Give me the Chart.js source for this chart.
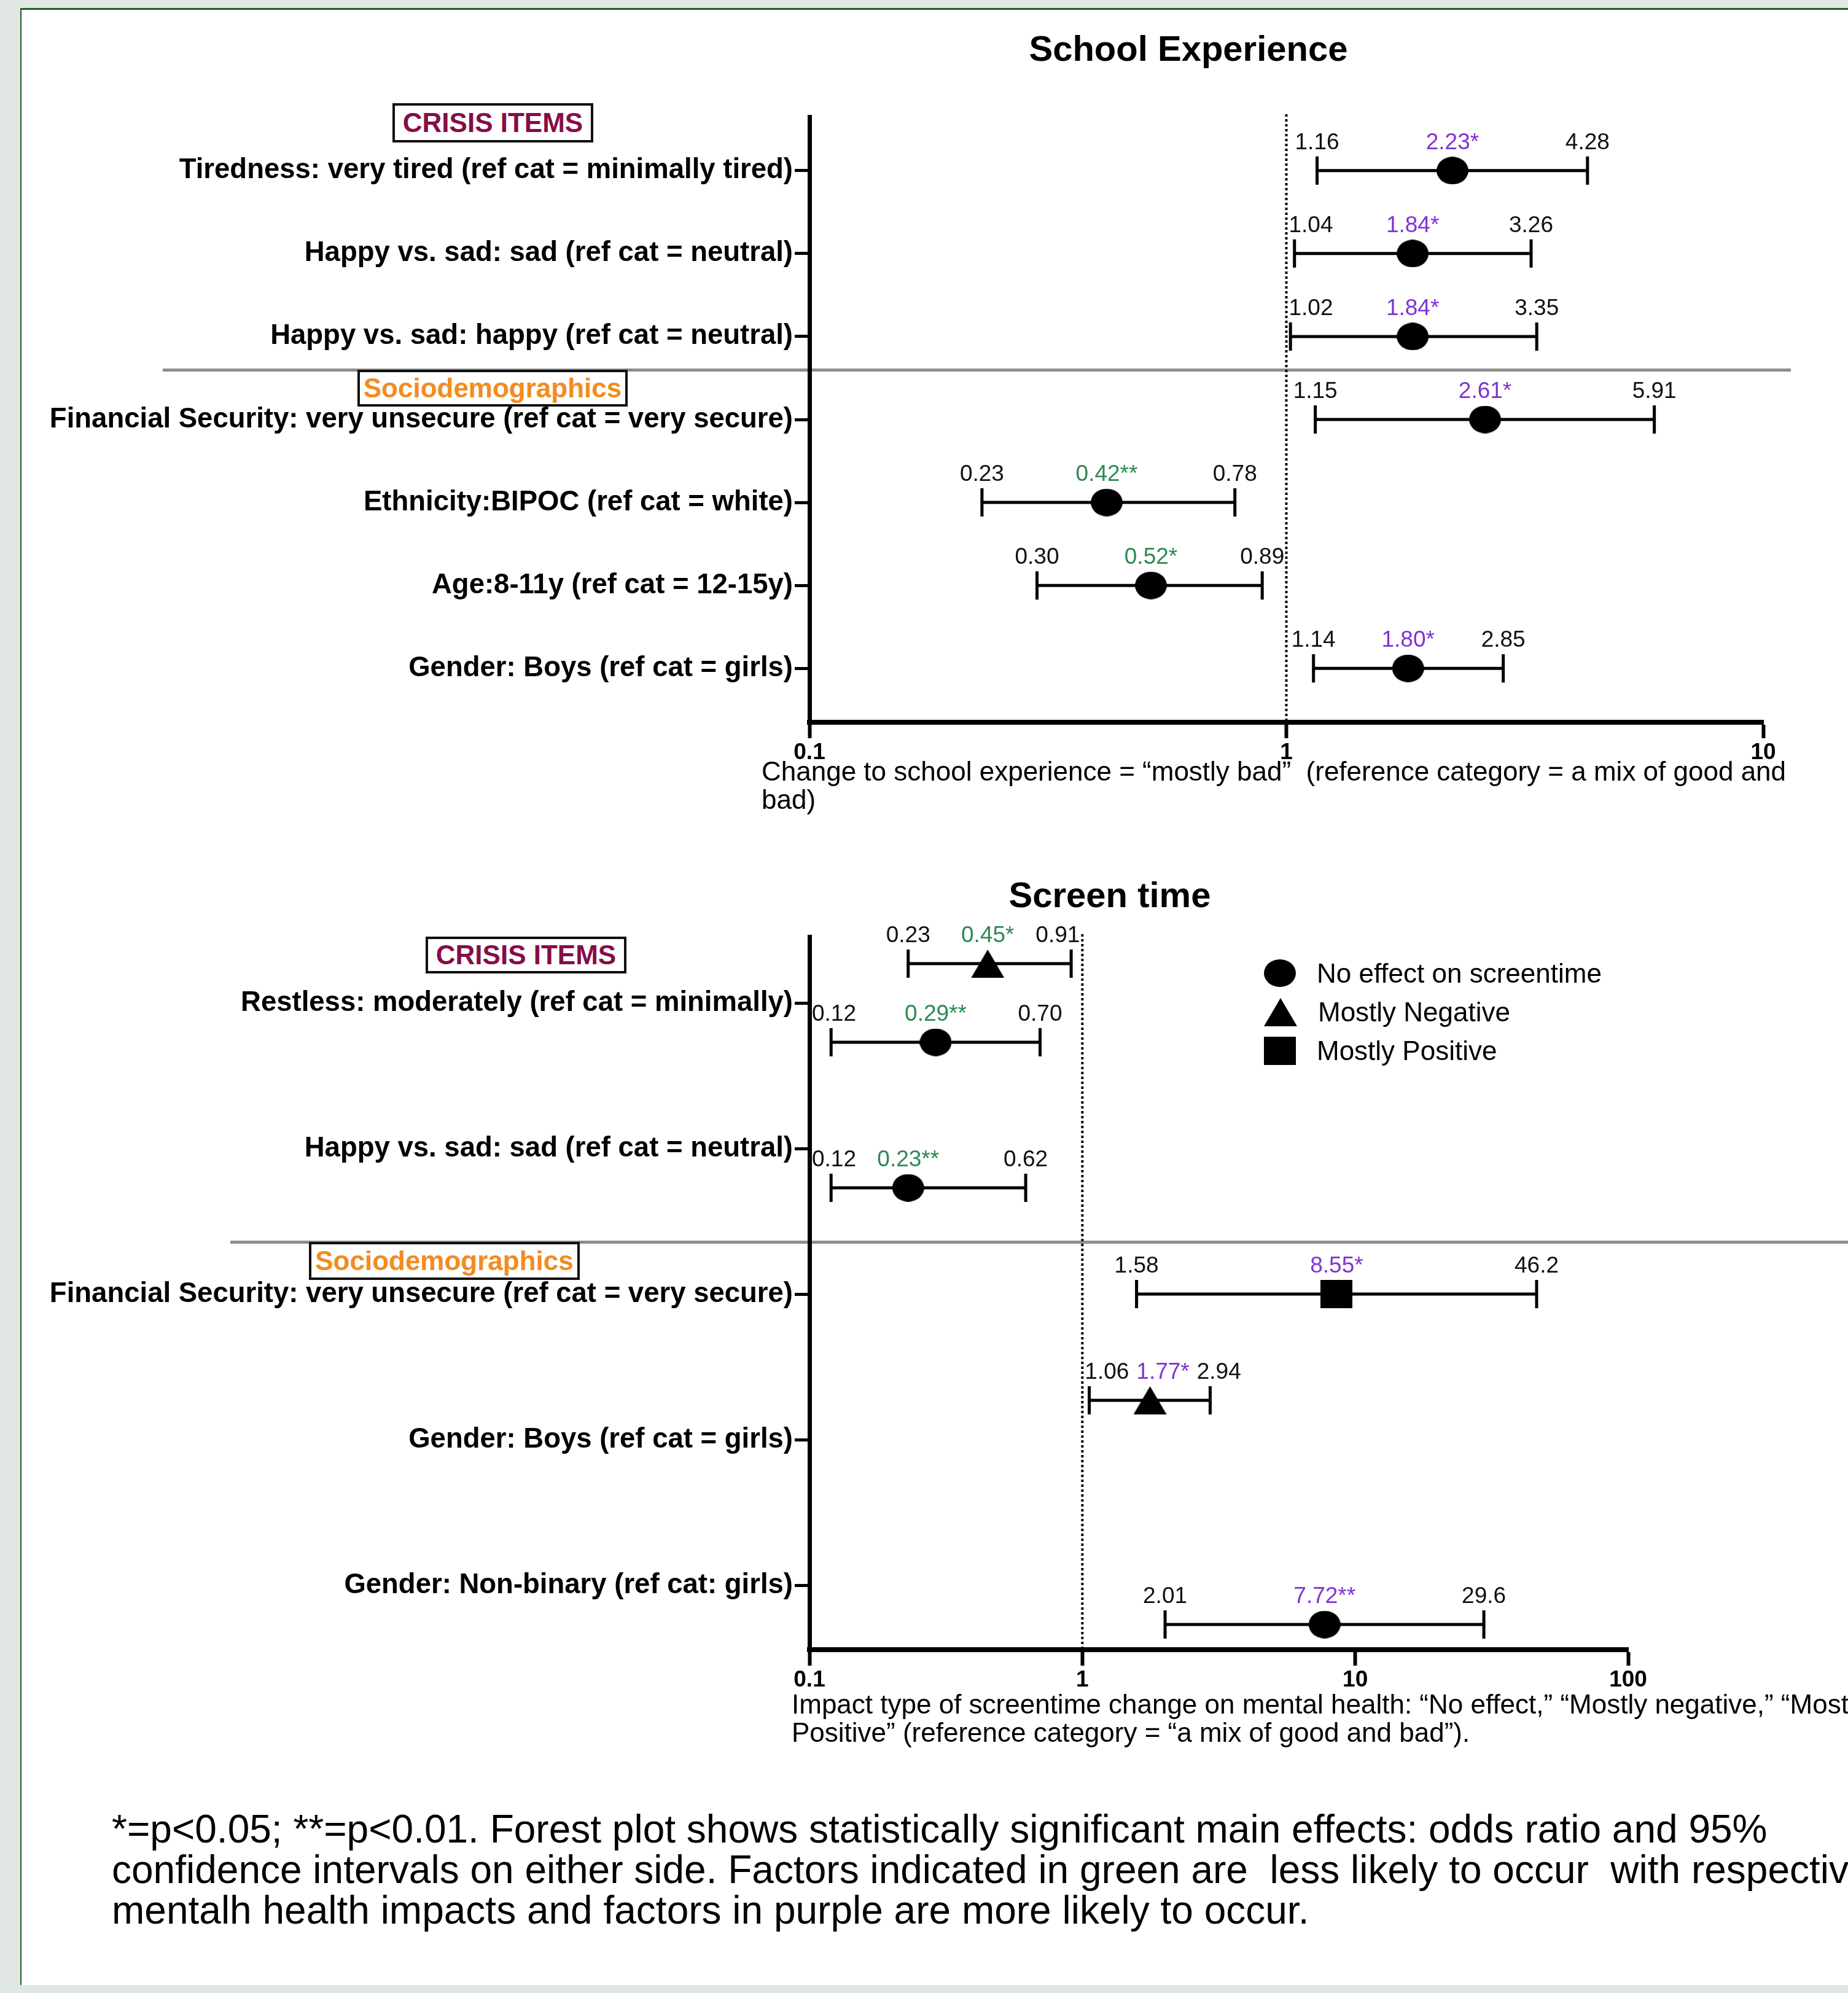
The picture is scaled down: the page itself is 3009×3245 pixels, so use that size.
<!DOCTYPE html>
<html>
<head>
<meta charset="utf-8">
<script src="https://cdn.jsdelivr.net/npm/chart.js@4.4.1/dist/chart.umd.min.js"></script>
<style>
  html, body { margin: 0; padding: 0; }
  body {
    width: 3009px; height: 3245px; overflow: hidden; position: relative;
    background: #e1e8e3; color: #000;
    font-family: 'Liberation Sans', Arial, sans-serif;
  }
  .panel {
    position: absolute; left: 33px; top: 13px; width: 2990px; height: 3219px;
    background: #fff; box-sizing: border-box;
    border-left: 2px solid #1f5f1f; border-top: 3px solid #1f5f1f;
  }
  .title { position: absolute; width: 800px; text-align: center; font-weight: bold; font-size: 58px; line-height: 60px; }
  .sep { position: absolute; height: 5px; background: #8e8e8e; }
  canvas { position: absolute; left: 0; }
  .group {
    position: absolute; box-sizing: border-box; border: 4px solid #111; background: #fff;
    display: flex; align-items: center; justify-content: center;
    font-weight: bold; font-size: 44px;
  }
  .axis-title { position: absolute; font-size: 44px; line-height: 46px; white-space: nowrap; }
  .note { position: absolute; left: 182px; top: 2945px; font-size: 64px; line-height: 66px; white-space: nowrap; }
  .legend { position: absolute; left: 2058px; top: 1553px; font-size: 44px; }
  .legend div { height: 63px; display: flex; align-items: center; }
  .legend img { margin-right: 34px; }
</style>
</head>
<body>
<div class="panel"></div>

<div class="sep" style="left:265px; top:600px; width:2651px;"></div>
<div class="sep" style="left:375px; top:2020px; width:2700px;"></div>

<canvas id="schoolChart" width="3009" height="1106" style="top:150px;"></canvas>
<canvas id="screenChart" width="3009" height="1286" style="top:1480px;"></canvas>

<div class="title" style="left:1535px; top:49px;">School Experience</div>
<div class="title" style="left:1407px; top:1427px;">Screen time</div>

<div class="group" style="left:639px; top:168px; width:327px; height:64px; color:#850d47;">CRISIS ITEMS</div>
<div class="group" style="left:582px; top:602px; width:440px; height:60px; color:#f28c1e;">Sociodemographics</div>
<div class="group" style="left:693px; top:1525px; width:327px; height:60px; color:#850d47;">CRISIS ITEMS</div>
<div class="group" style="left:503px; top:2022px; width:441px; height:62px; color:#f28c1e;">Sociodemographics</div>

<div class="axis-title" style="left:1240px; top:1233px;">Change to school experience = “mostly bad”&nbsp; (reference category = a mix of good and<br>bad)</div>
<div class="axis-title" style="left:1289px; top:2752px;">Impact type of screentime change on mental health: “No effect,” “Mostly negative,” “Mostly<br>Positive” (reference category = “a mix of good and bad”).</div>

<div class="legend" id="legend"></div>

<div class="note">*=p&lt;0.05; **=p&lt;0.01. Forest plot shows statistically significant main effects: odds ratio and 95%<br>confidence intervals on either side. Factors indicated in green are&nbsp; less likely to occur&nbsp; with respective<br>mentalh health impacts and factors in purple are more likely to occur.</div>

<script>
// ---- School Experience ----
const schoolLabels = [
  'Tiredness: very tired (ref cat = minimally tired)',
  'Happy vs. sad: sad (ref cat = neutral)',
  'Happy vs. sad: happy (ref cat = neutral)',
  'Financial Security: very unsecure (ref cat = very secure)',
  'Ethnicity:BIPOC (ref cat = white)',
  'Age:8-11y (ref cat = 12-15y)',
  'Gender: Boys (ref cat = girls)'
];
const schoolOR = [2.23, 1.84, 1.84, 2.61, 0.42, 0.52, 1.80];
const schoolLow = [1.16, 1.04, 1.02, 1.15, 0.23, 0.30, 1.14];
const schoolHigh = [4.28, 3.26, 3.35, 5.91, 0.78, 0.89, 2.85];
const schoolSig = ['*', '*', '*', '*', '**', '*', '*'];
const schoolTicks = [0.1, 1, 10];

// ---- Screen time ----
const screenLabels = [
  'Restless: moderately (ref cat = minimally)',
  'Happy vs. sad: sad (ref cat = neutral)',
  'Financial Security: very unsecure (ref cat = very secure)',
  'Gender: Boys (ref cat = girls)',
  'Gender: Non-binary (ref cat: girls)'
];
const screenRowCat = [0, 0, 1, 2, 3, 4];
const screenRowType = ['neg', 'none', 'none', 'pos', 'neg', 'none'];
const screenOR = [0.45, 0.29, 0.23, 8.55, 1.77, 7.72];
const screenLow = [0.23, 0.12, 0.12, 1.58, 1.06, 2.01];
const screenHigh = [0.91, 0.70, 0.62, 46.2, 2.94, 29.6];
const screenSig = ['*', '**', '**', '*', '*', '**'];
const screenTicks = [0.1, 1, 10, 100];

const typeNames = { none: 'No effect on screentime', neg: 'Mostly Negative', pos: 'Mostly Positive' };

const FONT = "'Liberation Sans', Arial, sans-serif";
const PURPLE = '#7f33d4';
const GREEN = '#2f8a52';

// marker shapes as small canvases (used as pointStyle)
function markerImage(shape, w, h) {
  const c = document.createElement('canvas');
  c.width = w;
  c.height = h;
  const g = c.getContext('2d');
  g.fillStyle = '#000';
  g.beginPath();
  if (shape === 'circle') {
    g.ellipse(w / 2, h / 2, w / 2, h / 2, 0, 0, Math.PI * 2);
  } else if (shape === 'triangle') {
    g.moveTo(w / 2, 0);
    g.lineTo(w, h);
    g.lineTo(0, h);
    g.closePath();
  } else {
    g.rect(0, 0, w, h);
  }
  g.fill();
  return c;
}

const markers = {
  none: markerImage('circle', 52, 45),
  neg: markerImage('triangle', 54, 46),
  pos: markerImage('rect', 52, 46)
};

// sub-row shift inside a category (screen time groups by impact type)
const typeShift = { neg: -0.27, pos: 0, none: 0.27 };

function fmtBound(v) {
  return v >= 10 ? v.toFixed(1) : v.toFixed(2);
}

// keep a label box off the dotted line / y axis
function nudge(left, w, cx, walls) {
  walls.forEach(wx => {
    if (left < wx + 3 && left + w > wx - 3) {
      left = cx >= wx ? wx + 4 : wx - 4 - w;
    }
  });
  return left;
}

// error bars, reference line at OR = 1 and value labels
const forestPlugin = {
  id: 'forest',
  beforeDatasetsDraw(chart, args, o) {
    const { ctx, chartArea } = chart;
    const x = chart.scales.x;
    const y = chart.scales.y;
    ctx.save();

    const x1 = x.getPixelForValue(1);
    ctx.strokeStyle = '#000';
    ctx.lineWidth = 4;
    ctx.setLineDash([4, 4]);
    ctx.beginPath();
    ctx.moveTo(x1, chartArea.top - 4);
    ctx.lineTo(x1, chartArea.bottom);
    ctx.stroke();
    ctx.setLineDash([]);

    ctx.lineWidth = o.barWidth;
    chart.data.datasets[0].data.forEach(d => {
      const py = y.getPixelForValue(d.y);
      const pl = x.getPixelForValue(d.lo);
      const ph = x.getPixelForValue(d.hi);
      ctx.beginPath();
      ctx.moveTo(pl, py);
      ctx.lineTo(ph, py);
      ctx.moveTo(pl, py - o.capHalf);
      ctx.lineTo(pl, py + o.capHalf);
      ctx.moveTo(ph, py - o.capHalf);
      ctx.lineTo(ph, py + o.capHalf);
      ctx.stroke();
    });
    ctx.restore();
  },
  afterDatasetsDraw(chart, args, o) {
    const { ctx, chartArea } = chart;
    const x = chart.scales.x;
    const y = chart.scales.y;
    const walls = [chartArea.left, x.getPixelForValue(1)];
    ctx.save();
    ctx.font = `${o.labelSize}px ${FONT}`;
    ctx.textAlign = 'left';
    ctx.textBaseline = 'middle';

    chart.data.datasets[0].data.forEach(d => {
      const ly = y.getPixelForValue(d.y) - o.labelGap;
      const items = [
        { text: fmtBound(d.lo), px: x.getPixelForValue(d.lo), color: '#111' },
        { text: d.x.toFixed(2) + d.sig, px: x.getPixelForValue(d.x), color: d.x > 1 ? PURPLE : GREEN },
        { text: fmtBound(d.hi), px: x.getPixelForValue(d.hi), color: '#111' }
      ];
      // centre on the value, step off walls, then push right past the previous label
      let prevRight = -Infinity;
      items.forEach(it => {
        const w = ctx.measureText(it.text).width;
        let left = nudge(it.px - w / 2, w, it.px, walls);
        if (left < prevRight + 12) left = prevRight + 12;
        ctx.fillStyle = it.color;
        ctx.fillText(it.text, left, ly);
        prevRight = left + w;
      });
    });
    ctx.restore();
  }
};

function forestChart(canvasId, cfg) {
  const canvas = document.getElementById(canvasId);
  if (!canvas) {
    console.warn(`Canvas element '${canvasId}' not found`);
    return null;
  }
  const rows = cfg.or.map((v, i) => ({
    x: v, y: cfg.rowY[i], lo: cfg.low[i], hi: cfg.high[i], sig: cfg.sig[i]
  }));

  return new Chart(canvas.getContext('2d'), {
    type: 'scatter',
    data: {
      datasets: [{
        data: rows,
        pointStyle: cfg.styles,
        pointRadius: 22,
        backgroundColor: '#000',
        borderWidth: 0
      }]
    },
    options: {
      responsive: false,
      animation: false,
      devicePixelRatio: 1,
      layout: { padding: { top: cfg.padTop, right: cfg.padRight, left: 0, bottom: 0 } },
      plugins: {
        legend: { display: false },
        tooltip: { enabled: false },
        forest: { barWidth: 5, capHalf: 23, labelSize: 37, labelGap: 45 }
      },
      scales: {
        x: {
          type: 'logarithmic',
          min: cfg.ticks[0],
          max: cfg.ticks[cfg.ticks.length - 1],
          afterBuildTicks: s => { s.ticks = cfg.ticks.map(v => ({ value: v })); },
          afterFit: s => { s.height = 80; },
          border: { color: '#000', width: 8 },
          grid: { drawOnChartArea: false, drawTicks: true, tickLength: 26, tickWidth: 6, tickColor: '#000' },
          ticks: {
            color: '#000',
            font: { family: FONT, size: 37, weight: 'bold' },
            padding: 2,
            autoSkip: false,
            maxRotation: 0,
            callback: v => String(v)
          }
        },
        y: {
          type: 'linear',
          reverse: true,
          min: cfg.yMin,
          max: cfg.yMax,
          afterBuildTicks: s => { s.ticks = cfg.labels.map((_, i) => ({ value: i + 1 })); },
          afterFit: s => { s.width = 1318; },
          border: { color: '#000', width: 7 },
          grid: { drawOnChartArea: false, drawTicks: true, tickLength: 24, tickWidth: 5, tickColor: '#000' },
          ticks: {
            color: '#000',
            font: { family: FONT, size: 45.5, weight: 'bold' },
            padding: 3,
            autoSkip: false,
            callback: v => cfg.labels[Math.round(v) - 1] || ''
          }
        }
      }
    },
    plugins: [forestPlugin]
  });
}

forestChart('schoolChart', {
  labels: schoolLabels,
  or: schoolOR, low: schoolLow, high: schoolHigh, sig: schoolSig,
  rowY: schoolOR.map((_, i) => i + 1),
  styles: schoolOR.map(() => markers.none),
  ticks: schoolTicks,
  yMin: 0.35, yMax: 7.65,
  padTop: 40, padRight: 138
});

forestChart('screenChart', {
  labels: screenLabels,
  or: screenOR, low: screenLow, high: screenHigh, sig: screenSig,
  rowY: screenRowCat.map((c, i) => c + 1 + typeShift[screenRowType[i]]),
  styles: screenRowType.map(t => markers[t]),
  ticks: screenTicks,
  yMin: 0.544, yMax: 5.443,
  padTop: 45, padRight: 358
});

// legend for the screen time panel
const legendBox = document.getElementById('legend');
['none', 'neg', 'pos'].forEach(t => {
  const row = document.createElement('div');
  const img = document.createElement('img');
  img.src = markers[t].toDataURL();
  img.width = markers[t].width;
  img.height = markers[t].height;
  const span = document.createElement('span');
  span.textContent = typeNames[t];
  row.appendChild(img);
  row.appendChild(span);
  legendBox.appendChild(row);
});
</script>
</body>
</html>
